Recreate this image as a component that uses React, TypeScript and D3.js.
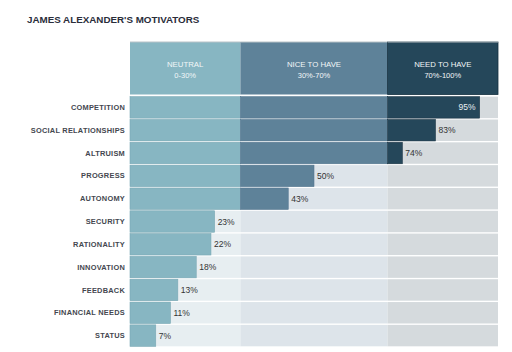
import * as d3 from "d3";

const motivators = [
  "COMPETITION",
  "SOCIAL RELATIONSHIPS",
  "ALTRUISM",
  "PROGRESS",
  "AUTONOMY",
  "SECURITY",
  "RATIONALITY",
  "INNOVATION",
  "FEEDBACK",
  "FINANCIAL NEEDS",
  "STATUS",
];
const scores = [95, 83, 74, 50, 43, 23, 22, 18, 13, 11, 7];

const zoneNames = ["NEUTRAL", "NICE TO HAVE", "NEED TO HAVE"];
const zoneRanges = ["0-30%", "30%-70%", "70%-100%"];
const zoneBreaks = [0, 30, 70, 100];

const barColors = ["#87b6c2", "#5e8299", "#25475a"];
const barEdges = ["#7aa9b5", "#557790", "#1b3545"];
const trackColors = ["#e7eef1", "#dde4ea", "#d5dadd"];

export default function App() {
  const width = 512;
  const height = 352;
  const margin = { left: 130, right: 14, top: 96, bottom: 5 };

  const x = d3.scaleLinear().domain([0, 100]).range([margin.left, width - margin.right]);
  const y = d3
    .scaleBand()
    .domain(motivators)
    .range([margin.top, height - margin.bottom])
    .paddingInner(0.06)
    .paddingOuter(0.03);

  const headTop = 42;
  const headBottom = 94.5;
  const font = "'Liberation Sans', Arial, sans-serif";

  return (
    <svg
      width={width}
      height={height}
      style={{ position: "absolute", left: 0, top: 0, background: "#fff" }}
      fontFamily={font}
    >
      <text x={27} y={23} fontSize={9.8} fontWeight="bold" fill="#2a2d3a">
        JAMES ALEXANDER'S MOTIVATORS
      </text>

      {/* zone headers */}
      {zoneNames.map((name, i) => {
        const x0 = x(zoneBreaks[i]);
        const x1 = x(zoneBreaks[i + 1]);
        const cx = (x0 + x1) / 2;
        return (
          <g key={name}>
            <rect
              x={x0}
              y={headTop}
              width={x1 - x0}
              height={headBottom - headTop}
              fill={barColors[i]}
              stroke={i === 2 ? "#15303f" : "none"}
              strokeWidth={0.8}
            />
            <line x1={x0} x2={x1} y1={headTop} y2={headTop} stroke="#b8c2c7" strokeWidth={1} />
            <text x={cx} y={67} textAnchor="middle" fontSize={7.8} fill="#f2f6f8">
              {name}
            </text>
            <text x={cx} y={77.5} textAnchor="middle" fontSize={7.5} fill="#f2f6f8">
              {zoneRanges[i]}
            </text>
          </g>
        );
      })}

      {/* rows */}
      {motivators.map((m, r) => {
        const v = scores[r];
        const y0 = y(m) ?? 0;
        const bh = y.bandwidth();
        const inside = v >= 90;
        return (
          <g key={m}>
            {zoneNames.map((z, i) => {
              const a = zoneBreaks[i];
              const b = zoneBreaks[i + 1];
              const filled = Math.max(0, Math.min(v, b) - a);
              return (
                <g key={z}>
                  <rect x={x(a)} y={y0} width={x(b) - x(a)} height={bh} fill={trackColors[i]} />
                  {filled > 0 && (
                    <rect
                      x={x(a)}
                      y={y0}
                      width={x(a + filled) - x(a)}
                      height={bh}
                      fill={barColors[i]}
                      stroke={barEdges[i]}
                      strokeWidth={0.6}
                    />
                  )}
                </g>
              );
            })}
            <text
              x={margin.left - 5}
              y={y0 + bh / 2}
              dy="0.35em"
              textAnchor="end"
              fontSize={7.4}
              fontWeight="bold"
              letterSpacing={0.25}
              fill="#44474f"
            >
              {m}
            </text>
            <text
              x={inside ? x(v) - 4 : x(v) + 3}
              y={y0 + bh / 2}
              dy="0.36em"
              textAnchor={inside ? "end" : "start"}
              fontSize={8.5}
              fill={inside ? "#e8eef2" : "#333"}
            >
              {v}%
            </text>
          </g>
        );
      })}
    </svg>
  );
}
